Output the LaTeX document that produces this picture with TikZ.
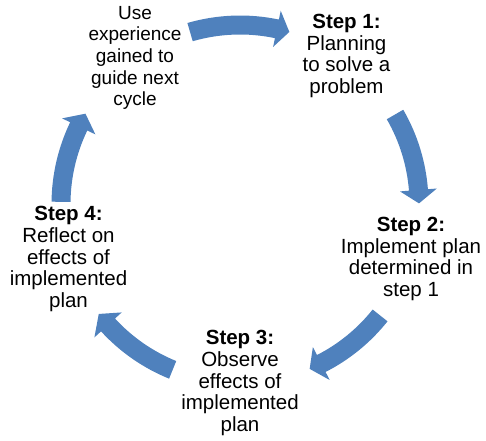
\documentclass[tikz,border=0pt]{standalone}
\usepackage{fontspec}
\setmainfont{Liberation Sans}
\definecolor{arrowblue}{RGB}{79,129,189}
\tikzset{
  txt/.style={align=center, inner sep=0pt, text=black, font=\fontsize{20.5}{21.8}\selectfont},
  txtsmall/.style={align=center, inner sep=0pt, text=black, font=\fontsize{19}{21.6}\selectfont},
  arrowfill/.style={fill=arrowblue}
}
% #1 start angle, #2 head base angle, #3 tip angle
\newcommand{\cyclearrow}[3]{%
  \fill[arrowfill] (#1:188.5pt) arc[start angle=#1, end angle=#2, radius=188.5pt]
    -- (#2:197.5pt) -- (#3:179pt) -- (#2:160.5pt) -- (#2:169.5pt)
    arc[start angle=#2, end angle=#1, radius=169.5pt] -- cycle;}
\begin{document}
\begin{tikzpicture}[x=1pt,y=1pt]
\useasboundingbox (0,0) rectangle (486,440);
\coordinate (c) at (240,236);
\node[txtsmall] (use) at (135,382) {Use\\experience\\gained to\\guide next\\cycle};
\node[txt] (s1) at (346.5,384) {\textbf{Step 1:}\\Planning\\to solve a\\problem};
\node[txt] (s2) at (411,181) {\textbf{Step 2:}\\Implement plan\\determined in\\step 1};
\node[txt] (s3) at (240,57) {\textbf{Step 3:}\\Observe\\effects of\\implemented\\plan};
\node[txt] (s4) at (68.5,181) {\textbf{Step 4:}\\Reflect on\\effects of\\implemented\\plan};
\begin{scope}[shift={(c)}]
  \cyclearrow{106.2}{78.1}{74.0}
  \cyclearrow{30.0}{4.5}{0.2}
  \cyclearrow{-38.5}{-63.0}{-67.1}
  \cyclearrow{247.9}{222.5}{217.9}
  \cyclearrow{179.3}{154.3}{149.7}
\end{scope}
\end{tikzpicture}
\end{document}
